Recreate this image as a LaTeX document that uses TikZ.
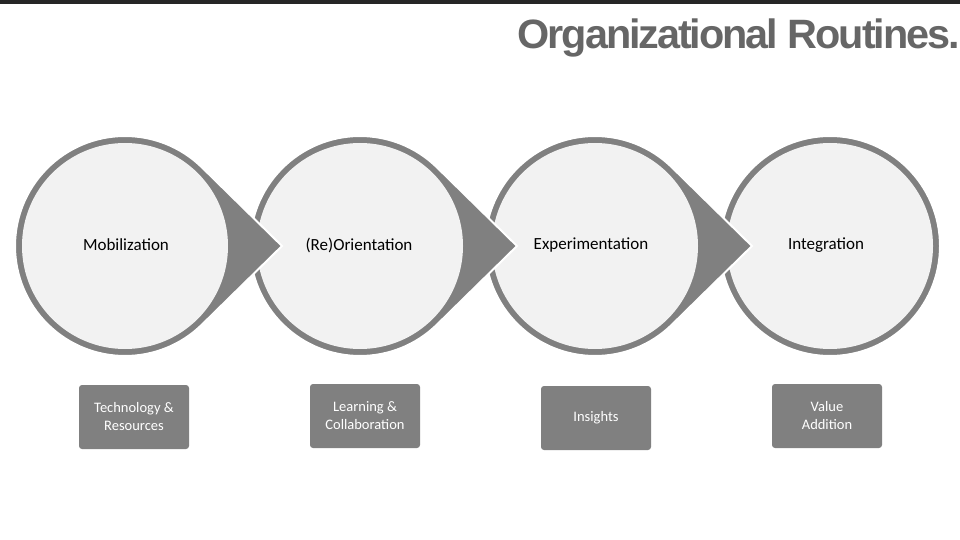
\documentclass[tikz,border=0pt]{standalone}
\usepackage{fontspec}
\setmainfont{Carlito}
\newfontfamily\titlefont{Liberation Sans}
\begin{document}
\begin{tikzpicture}[x=1pt,y=-1pt,
  ring/.style={fill=black!50, draw=white, line width=2pt},
  inner/.style={fill=black!5, draw=none},
  lbl/.style={font=\fontsize{17}{20}\selectfont, text=black},
  tag/.style={fill=black!50, rounded corners=3pt, minimum width=110pt, minimum height=64pt, text=white, align=center, font=\fontsize{14.5}{18}\selectfont}]
\useasboundingbox (0,0) rectangle (960,540);
\fill[black!85] (0,0) rectangle (960,4);
\node[anchor=east, text=black!60, font=\titlefont\bfseries\fontsize{41}{44}\selectfont, inner sep=0pt, xscale=1.01] (title) at (960,38) {\addfontfeature{LetterSpace=-5}Organizational Routines.};
\def\R{110}
\path[ring] (830,246) circle (\R);
\fill[inner] (830,246) circle (103);
\foreach \cx in {595,360,125}{
  \path[ring] (\cx+157,246) -- ([shift={(\cx,246)}]-45.5:\R) arc[start angle=-45.5, end angle=-314.5, radius=\R] -- cycle;
  \fill[inner] (\cx,246) circle (103);
}
\node[lbl] (c1) at (126,245) {Mobilization};
\node[lbl] (c2) at (359,245) {(Re)Orientation};
\node[lbl] (c3) at (591,245) {Experimentation};
\node[lbl] (c4) at (826,245) {Integration};
\node[tag] (t1) at (134,417) {Technology \&\\Resources};
\node[tag] (t2) at (365,416) {Learning \&\\Collaboration};
\node[tag] (t3) at (596,418) {Insights};
\node[tag] (t4) at (827,416) {Value\\Addition};
\end{tikzpicture}
\end{document}
